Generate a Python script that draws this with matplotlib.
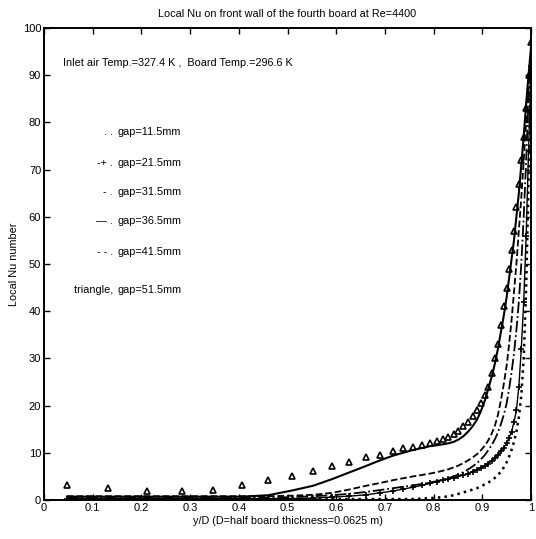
import matplotlib
matplotlib.use('Agg')
import matplotlib.pyplot as plt

# y/D positions (shared grid, denser towards the wall)
yd = [0.047, 0.132, 0.211, 0.283, 0.347, 0.406, 0.460, 0.509, 0.552, 0.591,
      0.626, 0.661, 0.690, 0.717, 0.737, 0.758, 0.776, 0.793, 0.807, 0.819,
      0.830, 0.841, 0.851, 0.861, 0.871, 0.880, 0.889, 0.897, 0.905, 0.912,
      0.919, 0.926, 0.932, 0.938, 0.944, 0.950, 0.955, 0.960, 0.965, 0.970,
      0.975, 0.980, 0.985, 0.990, 0.995, 1.0]

nu_115 = [0.2, 0.2, 0.2, 0.2, 0.2, 0.2, 0.2, 0.2, 0.2, 0.2,
          0.2, 0.2, 0.2, 0.2, 0.2, 0.2, 0.3, 0.4, 0.5, 0.6,
          0.8, 1.0, 1.3, 1.6, 1.9, 2.2, 2.5, 2.9, 3.3, 3.7,
          4.1, 4.7, 5.3, 6.0, 6.9, 8.0, 9.2, 10.6, 12.3, 14.5,
          17.5, 22.0, 30.0, 45.0, 68.0, 93.0]

nu_215 = [0.3, 0.3, 0.3, 0.3, 0.3, 0.3, 0.3, 0.3, 0.4, 0.6,
          0.8, 1.1, 1.5, 1.9, 2.3, 2.7, 3.1, 3.5, 3.9, 4.2,
          4.4, 4.7, 5.0, 5.3, 5.6, 6.0, 6.4, 6.8, 7.2, 7.7,
          8.3, 8.9, 9.6, 10.3, 11.1, 12.0, 13.2, 14.5, 16.5, 19.0,
          24.0, 32.0, 42.0, 56.0, 74.0, 92.0]

nu_315 = [0.5, 0.5, 0.5, 0.5, 0.5, 0.5, 0.5, 0.6, 0.8, 1.0,
          1.3, 1.7, 2.1, 2.5, 2.8, 3.1, 3.4, 3.7, 4.0, 4.3,
          4.6, 5.0, 5.4, 5.9, 6.5, 7.1, 7.8, 8.6, 9.5, 10.5,
          11.6, 12.9, 14.3, 16.0, 18.0, 20.5, 23.5, 27.0, 31.0, 36.0,
          42.0, 50.0, 60.0, 72.0, 85.0, 95.0]

nu_365 = [0.7, 0.7, 0.7, 0.7, 0.7, 0.7, 1.0, 2.0, 3.0, 4.4,
          5.8, 7.2, 8.4, 9.4, 10.0, 10.6, 11.0, 11.4, 11.6, 11.8,
          12.0, 12.3, 12.8, 13.5, 14.5, 15.6, 17.0, 18.8, 21.0, 23.5,
          26.0, 29.0, 32.0, 35.5, 39.0, 43.0, 47.0, 51.0, 55.0, 60.0,
          65.0, 71.0, 77.0, 84.0, 90.0, 96.0]

nu_415 = [0.8, 0.8, 0.8, 0.8, 0.8, 0.8, 0.8, 0.9, 1.1, 1.5,
          2.2, 3.0, 3.6, 4.2, 4.6, 5.0, 5.3, 5.6, 5.9, 6.2,
          6.5, 6.9, 7.3, 7.8, 8.4, 9.0, 9.7, 10.5, 11.5, 12.6,
          14.0, 15.8, 18.0, 21.0, 24.5, 28.5, 33.0, 38.0, 44.0, 50.0,
          57.0, 64.0, 72.0, 80.0, 88.0, 95.0]

nu_515 = [3.2, 2.5, 1.8, 1.8, 2.1, 3.2, 4.2, 5.0, 6.2, 7.2,
          8.1, 9.0, 9.6, 10.4, 11.0, 11.3, 11.7, 12.1, 12.6, 13.0,
          13.4, 14.0, 14.7, 15.6, 16.6, 17.8, 19.0, 20.5, 22.2, 24.0,
          27.0, 30.0, 33.0, 37.0, 41.0, 45.0, 49.0, 53.0, 57.0, 62.0,
          67.0, 72.0, 77.0, 83.0, 90.0, 97.0]

legend_marks = ['. .', '-+ .', '- .', '\u2014 .', '- - .', 'triangle,']
legend_gaps = ['gap=11.5mm', 'gap=21.5mm', 'gap=31.5mm', 'gap=36.5mm',
               'gap=41.5mm', 'gap=51.5mm']
legend_y = [78, 71.4, 65.3, 59.1, 52.5, 44.5]

plt.rcParams['font.family'] = ['Liberation Sans', 'DejaVu Sans']
plt.rcParams['font.size'] = 7.8

fig = plt.figure(figsize=(5.36, 5.39), dpi=100)
ax = fig.add_axes([0.0821, 0.0724, 0.9086, 0.8757])

ax.plot(yd, nu_115, color='black', linestyle=':', linewidth=1.8)
ax.plot(yd, nu_215, color='black', linestyle='-', linewidth=1.0,
        marker='+', markersize=4, markeredgewidth=1.2)
ax.plot(yd, nu_315, color='black', linestyle='-.', linewidth=1.3)
ax.plot(yd, nu_365, color='black', linestyle='-', linewidth=1.5)
ax.plot(yd, nu_415, color='black', linestyle='--', linewidth=1.3)
ax.plot(yd, nu_515, color='black', linestyle='none', marker='^',
        markersize=5, markerfacecolor='none', markeredgewidth=1.2)

ax.text(0.04, 92.6, 'Inlet air Temp.=327.4 K ,  Board Temp.=296.6 K',
        fontsize=7.8, va='center')
for mark, gap, yv in zip(legend_marks, legend_gaps, legend_y):
    ax.text(0.148, yv, mark + ' ', fontsize=7.8, va='center', ha='right')
    ax.text(0.15, yv, gap, fontsize=7.8, va='center', ha='left')

ax.set_xlim(0, 1)
ax.set_ylim(0, 100)
ax.set_xticks([0, 0.1, 0.2, 0.3, 0.4, 0.5, 0.6, 0.7, 0.8, 0.9, 1])
ax.set_xticklabels(['0', '0.1', '0.2', '0.3', '0.4', '0.5', '0.6', '0.7',
                    '0.8', '0.9', '1'])
ax.set_yticks(range(0, 101, 10))
ax.tick_params(direction='in', top=True, right=True, length=4, width=1,
               labelsize=8, pad=2)
for sp in ax.spines.values():
    sp.set_linewidth(1.4)

ax.set_title('Local Nu on front wall of the fourth board at Re=4400',
             fontsize=7.8, pad=8)
ax.set_xlabel('y/D (D=half board thickness=0.0625 m)', fontsize=7.8, labelpad=2)
ax.set_ylabel('Local Nu number', fontsize=7.8, labelpad=3)

fig.savefig('out.png', dpi=100)
